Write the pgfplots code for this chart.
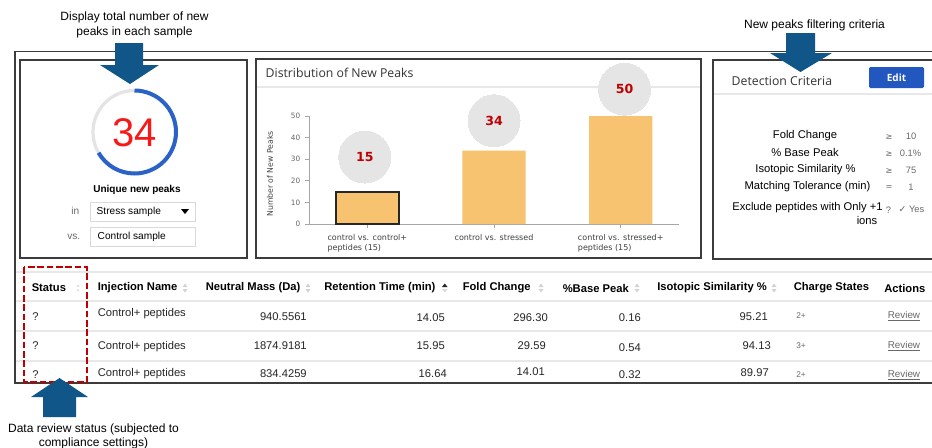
\documentclass[border=0pt]{standalone}
\usepackage{pgfplots}
\pgfplotsset{compat=1.18}
\usepackage{fontspec}
\setmainfont{Liberation Sans}
\newfontfamily\dv{DejaVu Sans}
\newfontfamily\os{Open Sans}
\definecolor{arrowblue}{RGB}{17,86,137}
\definecolor{gaugeblue}{RGB}{42,98,200}
\definecolor{gaugegray}{RGB}{228,228,228}
\definecolor{bignum}{RGB}{248,24,24}
\definecolor{barc}{RGB}{248,195,112}
\definecolor{bubble}{RGB}{229,229,229}
\definecolor{bubtxt}{RGB}{192,0,0}
\definecolor{editblue}{RGB}{34,87,192}
\definecolor{dashred}{RGB}{192,0,0}
\definecolor{frame}{RGB}{60,60,60}
\definecolor{sep}{RGB}{232,232,232}
\definecolor{soft}{RGB}{105,105,105}
\newcommand\fs[1]{\fontsize{#1}{#1}\selectfont}
\newcommand\sorticon[2]{%
  \fill[gray!35] (#1-2.5,#2-1) -- (#1+2.5,#2-1) -- (#1,#2-4.5) -- cycle;
  \fill[gray!35] (#1-2.5,#2+1) -- (#1+2.5,#2+1) -- (#1,#2+4.5) -- cycle;}
\begin{document}
\begin{tikzpicture}[x=0.75pt,y=-0.75pt]
\useasboundingbox (0,0) rectangle (932,447);
\fill[white] (0,0) rectangle (932,447);
% annotations
\node[font=\fs{9}] at (134.5,17) {Display total number of new};
\node[font=\fs{9}] at (134.5,32) {peaks in each sample};
\node[font=\fs{9}] at (814.5,25) {New peaks filtering criteria};
\node[font=\fs{9}] at (93.5,429) {Data review status (subjected to};
\node[font=\fs{9}] at (93.5,443) {compliance settings)};
% outer frame and panels
\draw[frame, line width=0.9pt] (940,51.5) -- (15,51.5) -- (15,383) -- (940,383);
\draw[frame, line width=0.9pt] (20,60) rectangle (247,258);
\draw[frame, line width=0.9pt] (256,59) rectangle (701,258);
\draw[frame, line width=0.9pt] (713,60) rectangle (945,259);
% ---------- left panel ----------
\draw[gaugegray, line width=2.4pt] (134.5,132) circle[radius=41.5];
\draw[gaugeblue, line width=3pt] (134.5,132) ++(-90:41.5) arc[start angle=-90, end angle=150, radius=41.5];
\node[text=bignum, font=\fs{30}] at (134.5,133) {34};
\node[font=\bfseries\fs{7.5}] at (137,190) {Unique new peaks};
\node[text=soft, font=\fs{7.6}, anchor=east] at (84,211) {in};
\draw[gray!30, fill=white] (90,202) rectangle (195,221);
\node[anchor=west, font=\fs{7.6}] at (92,211.5) {Stress sample};
\fill (181,209) -- (189,209) -- (185,214) -- cycle;
\node[text=soft, font=\fs{7.6}, anchor=east] at (85,237) {vs.};
\draw[gray!30, fill=white] (90,227) rectangle (195,246);
\node[anchor=west, font=\fs{7.6}] at (93,236.5) {Control sample};
% ---------- middle panel ----------
\node[anchor=west, font=\os\fs{9.2}, text=black!80] at (261,73) {Distribution of New Peaks};
\draw[sep, line width=0.8pt] (257,87) -- (700,87);
\node[rotate=90, font=\dv\fs{5.8}, text=black!75] at (270,174) {Number of New Peaks};
\coordinate (axorig) at (309,224);
\begin{axis}[
  at={(axorig)}, anchor=south west,
  scale only axis, width=277.5pt, height=81pt,
  xmin=-0.46, xmax=2.46, ymin=0, ymax=50,
  clip=false,
  axis x line*=bottom, axis y line*=left,
  axis line style={draw=gray!70, line width=0.6pt},
  tick style={draw=gray!70, line width=0.6pt},
  tick align=outside, major tick length=3pt,
  xtick={0,1,2},
  xticklabels={{control vs. control+\\peptides (15)},{control vs. stressed},{control vs. stressed+\\peptides (15)}},
  xticklabel style={align=left, font=\dv\fontsize{6}{7}\selectfont, text=black!75, yshift=-1.5pt},
  ytick={0,10,20,30,40,50},
  yticklabel style={font=\dv\fs{5.5}, text=black!60},
  /pgf/number format/assume math mode=true,
]
\addplot[ybar, bar width=0.5, bar shift=0pt, fill=barc, draw=none] coordinates {(1,34) (2,50)};
\addplot[ybar, bar width=0.5, bar shift=0pt, fill=barc, draw=black!85, line width=1.4pt] coordinates {(0,15)};
\addplot[bubble, only marks, mark=*, mark size=19.5pt, mark options={fill=bubble, draw=bubble, line width=0pt},
  nodes near coords, point meta=explicit symbolic,
  every node near coord/.append style={anchor=center, text=bubtxt, font=\dv\bfseries\fs{9.4}}]
  coordinates {(-0.02,31)[15] (1.0,47.8)[34] (2.03,62.4)[50]};
\end{axis}
% ---------- right panel ----------
\node[anchor=west, font=\os\fs{9.2}, text=black!80] at (727,81) {Detection Criteria};
\draw[sep, line width=0.8pt] (714,94) -- (932,94);
\fill[editblue, rounded corners=1pt] (869,67) rectangle (924,88);
\node[text=white, font=\os\bfseries\fs{7.5}] at (896.5,77.5) {Edit};
\node[font=\fs{8.4}] at (805,136) {Fold Change};
\node[font=\fs{8.4}] at (805,152) {\% Base Peak};
\node[font=\fs{8.4}] at (805.5,170) {Isotopic Similarity \%};
\node[font=\fs{8.4}] at (807.5,187) {Matching Tolerance (min)};
\node[font=\fs{8.4}] at (807.5,207.5) {Exclude peptides with Only +1};
\node[font=\fs{8.4}, anchor=east] at (882,220) {ions};
\node[text=soft, font=\dv\fs{6.2}] at (889,137) {≥};
\node[text=soft, font=\dv\fs{6.2}] at (889,154) {≥};
\node[text=soft, font=\dv\fs{6.2}] at (889,171) {≥};
\node[text=soft, font=\dv\fs{6.2}] at (889,188) {=};
\node[text=soft, font=\fs{7}] at (888.5,210.5) {?};
\node[text=soft, font=\fs{7}] at (911,136.5) {10};
\node[text=soft, font=\fs{7}] at (910.5,153.5) {0.1\%};
\node[text=soft, font=\fs{7}] at (911,170.5) {75};
\node[text=soft, font=\fs{7}] at (911,187.5) {1};
\node[text=soft, font=\fs{7}] at (911.5,209.5) {{\dv ✓} Yes};
% ---------- table ----------
\draw[sep, line width=0.8pt] (16,272) -- (932,272);
\draw[sep, line width=0.8pt] (16,301) -- (932,301);
\draw[sep, line width=0.8pt] (16,331) -- (932,331);
\draw[sep, line width=0.8pt] (16,361) -- (932,361);
\begin{scope}[every node/.style={font=\bfseries\fs{8.4}, anchor=west, inner sep=0pt}]
\node at (31.5,288) {Status};
\node at (97.5,288) {Injection Name};
\node at (205.5,288) {Neutral Mass (Da)};
\node at (324,288) {Retention Time (min)};
\node at (462.5,288) {Fold Change};
\node at (562.5,288) {\%Base Peak};
\node at (657,288) {Isotopic Similarity \%};
\node at (793.5,288) {Charge States};
\node at (884,288) {Actions};
\end{scope}
\fill[gray!30] (76.5,286.5) -- (79.5,286.5) -- (78,284.5) -- cycle;
\fill[gray!30] (76.5,289.5) -- (79.5,289.5) -- (78,291.5) -- cycle;
\sorticon{185}{288}
\sorticon{308}{288}
\sorticon{541}{288}
\sorticon{637}{288}
\sorticon{774}{288}
\fill[black!85] (442,287) -- (447.5,287) -- (444.75,283.5) -- cycle;
\fill[gray!30] (442,289) -- (447.5,289) -- (444.75,292.5) -- cycle;
\begin{scope}[every node/.style={font=\fs{8.4}, inner sep=0pt, text=black!85}]
\node[anchor=west] at (32,317) {?};
\node[anchor=west] at (32,346) {?};
\node[anchor=west] at (32,375) {?};
\node[anchor=west] at (97.5,314) {Control+ peptides};
\node[anchor=west] at (97.5,347) {Control+ peptides};
\node[anchor=west] at (97.5,374) {Control+ peptides};
\node[anchor=east] at (307,317) {940.5561};
\node[anchor=east] at (307,345.5) {1874.9181};
\node[anchor=east] at (307,374) {834.4259};
\node[anchor=east] at (445,318) {14.05};
\node[anchor=east] at (445,346) {15.95};
\node[anchor=east] at (447,374) {16.64};
\node[anchor=east] at (548,318) {296.30};
\node[anchor=east] at (546,346) {29.59};
\node[anchor=east] at (545,372) {14.01};
\node[anchor=east] at (641,318) {0.16};
\node[anchor=east] at (641,348) {0.54};
\node[anchor=east] at (641,375) {0.32};
\node[anchor=east] at (768,317) {95.21};
\node[anchor=east] at (771,346) {94.13};
\node[anchor=east] at (769,373) {89.97};
\end{scope}
\begin{scope}[every node/.style={font=\fs{6.2}, inner sep=0pt, text=soft, anchor=west}]
\node at (796,316) {2+};
\node at (796,346) {3+};
\node at (796,375) {2+};
\end{scope}
\begin{scope}[every node/.style={font=\fs{7.4}, inner sep=0pt, text=soft, anchor=west}]
\node at (887.5,316) {\underline{Review}};
\node at (887.5,346) {\underline{Review}};
\node at (887.5,375) {\underline{Review}};
\end{scope}
% red dashed box
\draw[dashred, line width=1.8pt, dash pattern=on 5pt off 2pt] (24,267) rectangle (87,382);
% arrows
\fill[arrowblue] (115,43) -- (143,43) -- (143,65) -- (159,65) -- (130,84) -- (100,65) -- (115,65) -- cycle;
\fill[arrowblue] (786,33) -- (815,33) -- (815,53) -- (832,53) -- (800.5,72) -- (770,53) -- (786,53) -- cycle;
\fill[arrowblue] (59.5,378) -- (88,397) -- (76,397) -- (76,417) -- (43,417) -- (43,397) -- (31,397) -- cycle;
\end{tikzpicture}
\end{document}
